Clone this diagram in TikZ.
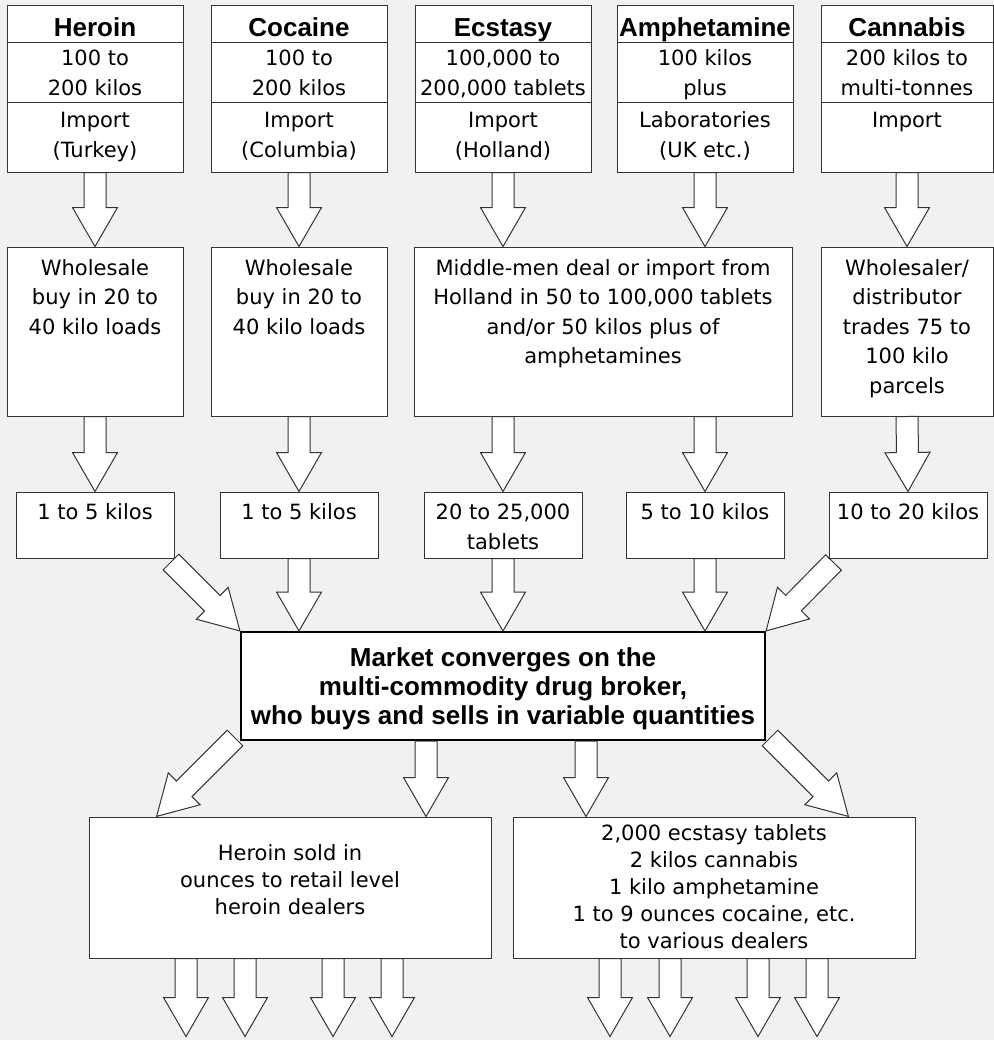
\documentclass[tikz,border=0pt]{standalone}
\usepackage{fontspec}
\setmainfont{DejaVu Sans}
\newfontfamily\headfont{Liberation Sans}
\usetikzlibrary{calc}
\usetikzlibrary{positioning}
\definecolor{paper}{gray}{0.945}
\definecolor{ink}{gray}{0.2}
\newlength\px
\setlength\px{0.5pt}
% text set in a fixed box: width, height, first baseline, lines
\newcommand{\boxtext}[4]{\parbox[c][#2\px][t]{#1\px}{\centering\rule{0pt}{#3\px}#4}}
% hollow block arrow from #1 to #2
\newcommand{\blockarrow}[2]{%
  \draw[hollow arrow] let \p1=#1, \p2=#2, \n1={atan2(\y2-\y1,\x2-\x1)}, \n2={veclen(\x2-\x1,\y2-\y1)} in
    [shift={(\p1)},rotate=\n1] (0pt,5.5pt) -- ({\n2*1pt-19.5pt},5.5pt) -- ({\n2*1pt-19.5pt},11.25pt)
    -- ({\n2*1pt},0pt) -- ({\n2*1pt-19.5pt},-11.25pt) -- ({\n2*1pt-19.5pt},-5.5pt) -- (0pt,-5.5pt) -- cycle;}

\begin{document}
\begin{tikzpicture}[x=0.5pt,y=-0.5pt,
    main node/.style={draw=ink,fill=white,line width=0.5pt,inner sep=0pt,font=\fontsize{10.5}{15}\selectfont},
    head node/.style={main node,font=\headfont\bfseries\fontsize{13}{15}\selectfont},
    deal node/.style={main node,font=\fontsize{10.5}{14.75}\selectfont},
    sale node/.style={main node,font=\fontsize{10.5}{13.5}\selectfont},
    broker node/.style={main node,draw=black,line width=1pt,font=\headfont\bfseries\fontsize{13}{14.5}\selectfont},
    hollow arrow/.style={draw=ink,fill=white,line width=0.5pt,line join=miter}]
  \useasboundingbox (0,0) rectangle (994,1040);
  \fill[paper] (0,0) rectangle (994,1040);

  % sources
  \node[head node] (h1) at (95,23.5) {\boxtext{176}{37}{31}{Heroin}};
  \node[head node] (h2) at (299,23.5) {\boxtext{176}{37}{31}{Cocaine}};
  \node[head node] (h3) at (503,23.5) {\boxtext{176}{37}{31}{Ecstasy}};
  \node[head node] (h4) at (705,23.5) {\boxtext{176}{37}{31}{Amphetamine}};
  \node[head node] (h5) at (907,23.5) {\boxtext{172}{37}{31}{Cannabis}};

  \node[main node] (q1) at (95,72) {\boxtext{176}{60}{23}{100 to\\200 kilos}};
  \node[main node] (q2) at (299,72) {\boxtext{176}{60}{23}{100 to\\200 kilos}};
  \node[main node] (q3) at (503,72) {\boxtext{176}{60}{23}{100,000 to\\200,000 tablets}};
  \node[main node] (q4) at (705,72) {\boxtext{176}{60}{23}{100 kilos\\plus}};
  \node[main node] (q5) at (907,72) {\boxtext{172}{60}{23}{200 kilos to\\multi-tonnes}};

  \node[main node] (s1) at (95,137) {\boxtext{176}{70}{25}{Import\\(Turkey)}};
  \node[main node] (s2) at (299,137) {\boxtext{176}{70}{25}{Import\\(Columbia)}};
  \node[main node] (s3) at (503,137) {\boxtext{176}{70}{25}{Import\\(Holland)}};
  \node[main node] (s4) at (705,137) {\boxtext{176}{70}{25}{Laboratories\\(UK etc.)}};
  \node[main node] (s5) at (907,137) {\boxtext{172}{70}{25}{Import}};

  % wholesale level
  \node[deal node] (w1) at (95,331.5) {\boxtext{176}{169}{28}{Wholesale\\buy in 20 to\\40 kilo loads}};
  \node[deal node] (w2) at (299,331.5) {\boxtext{176}{169}{28}{Wholesale\\buy in 20 to\\40 kilo loads}};
  \node[deal node] (w3) at (603,331.5) {\boxtext{378}{169}{28}{Middle-men deal or import from\\Holland in 50 to 100,000 tablets\\and/or 50 kilos plus of\\amphetamines}};
  \node[deal node] (w5) at (907,331.5) {\boxtext{172}{169}{28}{Wholesaler/\\distributor\\trades 75 to\\100 kilo\\parcels}};

  \node[main node] (k1) at (95,525) {\boxtext{158}{66}{27}{1 to 5 kilos}};
  \node[main node] (k2) at (299,525) {\boxtext{158}{66}{27}{1 to 5 kilos}};
  \node[main node] (k3) at (503,525) {\boxtext{158}{66}{27}{20 to 25,000\\tablets}};
  \node[main node] (k4) at (705,525) {\boxtext{158}{66}{27}{5 to 10 kilos}};
  \node[main node] (k5) at (908,525) {\boxtext{158}{66}{27}{10 to 20 kilos}};

  \node[broker node] (m) at (503,686) {\boxtext{524}{108}{34}{Market converges on the\\multi-commodity drug broker,\\who buys and sells in variable quantities}};

  \node[sale node] (d1) at (290,887.5) {\boxtext{402}{141}{43}{Heroin sold in\\ounces to retail level\\heroin dealers}};
  \node[sale node] (d2) at (714,887.5) {\boxtext{402}{141}{23}{2,000 ecstasy tablets\\2 kilos cannabis\\1 kilo amphetamine\\1 to 9 ounces cocaine, etc.\\to various dealers}};

  % flows down the columns
  \blockarrow{(s1.south)}{(w1.north)}
  \blockarrow{(s2.south)}{(w2.north)}
  \blockarrow{(s3.south)}{(s3.south |- w3.north)}
  \blockarrow{(s4.south)}{(s4.south |- w3.north)}
  \blockarrow{(s5.south)}{(w5.north)}

  \blockarrow{(w1.south)}{(k1.north)}
  \blockarrow{(w2.south)}{(k2.north)}
  \blockarrow{(k3.north |- w3.south)}{(k3.north)}
  \blockarrow{(k4.north |- w3.south)}{(k4.north)}
  \blockarrow{(w5.south)}{(k5.north)}

  % into the broker
  \blockarrow{($(k1.south east)+(-3.5,3.5)$)}{(m.north west)}
  \blockarrow{(k2.south)}{(k2.south |- m.north)}
  \blockarrow{(k3.south)}{(k3.south |- m.north)}
  \blockarrow{(k4.south)}{(k4.south |- m.north)}
  \blockarrow{($(k5.south west)+(5,4)$)}{(m.north east)}

  % out of the broker
  \coordinate (o1) at ($(m.south)+(-77,0)$);
  \coordinate (o2) at ($(m.south)+(83,0)$);
  \blockarrow{($(m.south west)+(-5,-3)$)}{($(d1.north west)+(68,0)$)}
  \blockarrow{(o1)}{(o1 |- d1.north)}
  \blockarrow{(o2)}{(o2 |- d2.north)}
  \blockarrow{($(m.south east)+(4,-3)$)}{($(d2.north east)+(-67,0)$)}

  \foreach \dx in {-104,-45,43,102} {
    \coordinate (e) at ($(d1.south)+(\dx,0)$);
    \blockarrow{(e)}{($(e)+(0,78)$)}
  }
  \foreach \dx in {-104,-44,44,103} {
    \coordinate (e) at ($(d2.south)+(\dx,0)$);
    \blockarrow{(e)}{($(e)+(0,78)$)}
  }
\end{tikzpicture}
\end{document}
